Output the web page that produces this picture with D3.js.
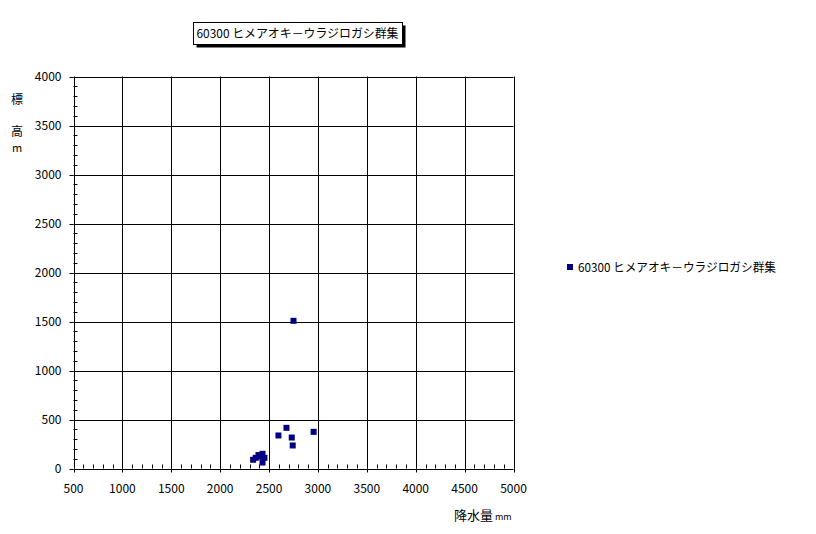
<!DOCTYPE html>
<html><head><meta charset="utf-8">
<script src="https://cdn.jsdelivr.net/npm/d3@7"></script>
<style>body{margin:0;background:#fff;} svg{display:block;}</style>
</head><body>
<svg id="c" width="816" height="534"></svg>
<script>
const seriesName = "60300 ヒメアオキ－ウラジロガシ群集";
const precip = [2337, 2364, 2392, 2433, 2453, 2433, 2410, 2596, 2678, 2732, 2742, 2956, 2750];
const elevation = [89, 109, 137, 150, 109, 61, 120, 337, 415, 316, 235, 374, 1507];
const xTicks = [500,1000,1500,2000,2500,3000,3500,4000,4500,5000];
const yTicks = [0,500,1000,1500,2000,2500,3000,3500,4000];

const svg = d3.select("#c");
const font = "'Noto Sans CJK JP', 'DejaVu Sans', sans-serif";
const L = 73.5, R = 513.5, T = 76.5, B = 468.5;
const x = d3.scaleLinear().domain([500,5000]).range([L,R]);
const y = d3.scaleLinear().domain([0,4000]).range([B,T]);

// grid
const g = svg.append("g");
g.selectAll(".vx").data(xTicks).join("line")
  .attr("x1",d=>Math.round(x(d))+0.5).attr("x2",d=>Math.round(x(d))+0.5)
  .attr("y1",T).attr("y2",B).attr("stroke","#000").attr("stroke-width",1);
g.selectAll(".hy").data(yTicks).join("line")
  .attr("y1",d=>Math.round(y(d))+0.5).attr("y2",d=>Math.round(y(d))+0.5)
  .attr("x1",L).attr("x2",R).attr("stroke","#000").attr("stroke-width",1);

// minor ticks
const xMinor = d3.range(500,5001,100).filter(v=>v%500!==0);
const yMinor = d3.range(0,4001,100).filter(v=>v%500!==0);
g.selectAll(".mx").data(xMinor).join("line")
  .attr("x1",d=>Math.round(x(d))+0.5).attr("x2",d=>Math.round(x(d))+0.5)
  .attr("y1",B-4).attr("y2",B).attr("stroke","#000");
g.selectAll(".my").data(yMinor).join("line")
  .attr("y1",d=>Math.round(y(d))+0.5).attr("y2",d=>Math.round(y(d))+0.5)
  .attr("x1",L).attr("x2",L+4).attr("stroke","#000");
// major tick marks outside
g.selectAll(".tx").data(xTicks).join("line")
  .attr("x1",d=>Math.round(x(d))+0.5).attr("x2",d=>Math.round(x(d))+0.5)
  .attr("y1",B).attr("y2",B+4).attr("stroke","#000");
g.selectAll(".ty").data(yTicks).join("line")
  .attr("y1",d=>Math.round(y(d))+0.5).attr("y2",d=>Math.round(y(d))+0.5)
  .attr("x1",L-4).attr("x2",L).attr("stroke","#000");

// tick labels
svg.append("g").selectAll("text").data(xTicks).join("text")
  .attr("x",d=>x(d)).attr("y",B+24).attr("text-anchor","middle")
  .attr("font-family",font).attr("font-size",12).text(d=>d);
svg.append("g").selectAll("text").data(yTicks).join("text")
  .attr("x",L-12).attr("y",d=>y(d)+4).attr("text-anchor","end")
  .attr("font-family",font).attr("font-size",12).text(d=>d);

// points
svg.append("g").selectAll("rect").data(precip.map((p,i)=>[p,elevation[i]])).join("rect")
  .attr("x",d=>x(d[0])-3).attr("y",d=>y(d[1])-3).attr("width",6).attr("height",6)
  .attr("fill","#000080");

// title box with shadow
const tb = {x:193.5, y:22.5, w:209, h:22};
svg.append("rect").attr("x",tb.x+3).attr("y",tb.y+3).attr("width",tb.w).attr("height",tb.h).attr("fill","#000");
svg.append("rect").attr("x",tb.x).attr("y",tb.y).attr("width",tb.w).attr("height",tb.h).attr("fill","#fff").attr("stroke","#000");
svg.append("text").attr("x",tb.x+3).attr("y",tb.y+15.5)
  .attr("textLength",202).attr("lengthAdjust","spacingAndGlyphs")
  .attr("font-family",font).attr("font-size",12).text(seriesName);

// axis titles
svg.append("text").attr("x",17).attr("y",104).attr("text-anchor","middle").attr("font-family",font).attr("font-size",12).text("標");
svg.append("text").attr("x",17).attr("y",136).attr("text-anchor","middle").attr("font-family",font).attr("font-size",12).text("高");
svg.append("text").attr("x",17).attr("y",152).attr("text-anchor","middle").attr("font-family",font).attr("font-size",11).text("m");
const xl = svg.append("text").attr("x",454).attr("y",520).attr("font-family",font).attr("font-size",13);
xl.append("tspan").text("降水量");
xl.append("tspan").attr("font-size",9).attr("dx",2).text("mm");

// legend
svg.append("rect").attr("x",567).attr("y",264).attr("width",6).attr("height",6).attr("fill","#000080");
svg.append("text").attr("x",578).attr("y",271.5)
  .attr("textLength",198).attr("lengthAdjust","spacingAndGlyphs")
  .attr("font-family",font).attr("font-size",12).text(seriesName);
</script>
</body></html>
